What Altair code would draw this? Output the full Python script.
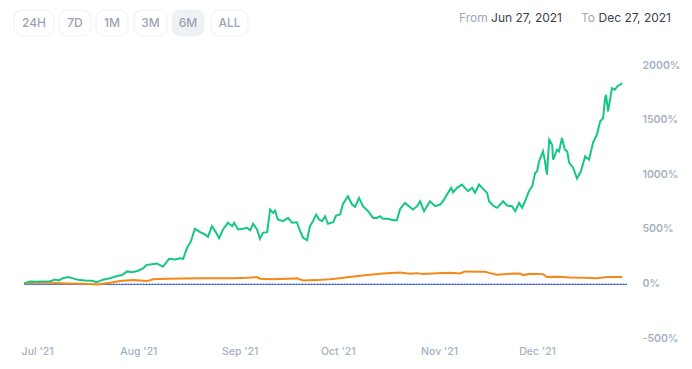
import altair as alt
import pandas as pd

# ---- data (days since 2021-06-27, % change) ----
green_days = [0.0, 1.8, 4.0, 5.8, 8.0, 9.5, 10.7, 11.9, 13.5, 15.0, 16.5, 18.7, 20.8, 22.3,
              24.2, 26.3, 28.5, 30.0, 31.5, 33.1, 34.9, 36.4, 37.6, 38.6, 40.7, 42.5, 44.4,
              46.2, 47.7, 48.7, 49.9, 51.1, 52.3, 53.9, 55.4, 56.3, 57.5, 58.8, 59.7, 60.9,
              62.4, 63.7, 64.3, 65.5, 67.0, 68.2, 69.2, 70.1, 71.3, 72.2, 73.1, 74.4, 75.3,
              76.2, 76.8, 77.7, 79.3, 80.8, 82.0, 83.5, 84.5, 85.4, 86.6, 87.5, 88.4, 89.4,
              90.3, 91.2, 92.1, 93.0, 94.6, 95.5, 96.7, 97.6, 99.1, 100.4, 101.3, 102.5,
              103.7, 105.3, 106.8, 108.0, 108.9, 109.9, 111.4, 112.9, 114.1, 115.1, 116.6,
              117.5, 119.0, 120.3, 121.2, 122.4, 124.2, 125.8, 127.3, 128.2, 129.4, 130.7,
              131.3, 132.5, 134.0, 134.9, 135.9, 137.1, 138.0, 139.2, 140.5, 141.7, 142.3,
              143.5, 144.7, 145.7, 146.6, 147.8, 149.3, 150.3, 151.5, 152.4, 153.3, 154.5,
              155.5, 156.4, 157.0, 157.6, 158.8, 159.4, 160.0, 160.7, 161.6, 161.9, 163.1,
              163.7, 164.6, 165.5, 166.2, 166.8, 168.0, 169.2, 170.4, 171.7, 172.9, 174.1,
              175.3, 176.3, 177.2, 177.8, 178.1, 178.7, 179.9, 180.8, 181.5, 182.4, 183.0]
green_vals = [0, 18, 15, 18, 20, 36, 27, 48, 58, 46, 34, 27, 25, 12,
              34, 48, 67, 76, 110, 103, 116, 137, 171, 174, 183, 152, 225,
              219, 231, 225, 326, 387, 500, 469, 448, 427, 524, 463, 414, 494,
              555, 524, 555, 494, 500, 509, 487, 546, 494, 409, 463, 469, 676,
              646, 667, 585, 570, 600, 555, 560, 478, 418, 396, 524, 570, 631,
              585, 570, 615, 546, 560, 621, 631, 728, 798, 722, 701, 783,
              707, 661, 600, 600, 615, 591, 591, 579, 579, 683, 737,
              713, 676, 707, 752, 661, 752, 707, 722, 752, 813, 875,
              834, 875, 905, 875, 844, 875, 829, 905, 866, 829, 752,
              713, 692, 722, 752, 713, 707, 661, 737, 692, 752, 844,
              890, 1012, 1027, 1118, 1209, 1118, 996, 1316, 1270, 1133, 1225,
              1209, 1331, 1225, 1209, 1106, 1060, 960, 1027, 1164, 1133, 1289,
              1362, 1484, 1514, 1697, 1727, 1575, 1789, 1773, 1803, 1819, 1834]

orange_days = [0.0, 3.0, 8.0, 13.2, 18.1, 22.6, 26.3, 29.4, 33.4, 37.6, 39.5, 43.8, 48.7,
               53.9, 59.1, 64.0, 68.2, 71.3, 72.2, 76.2, 80.5, 83.5, 85.4, 89.7, 93.6,
               96.7, 99.5, 105.0, 109.9, 115.1, 118.1, 120.3, 122.1, 126.4, 130.4, 133.4,
               134.9, 138.6, 141.1, 142.6, 144.7, 148.7, 151.8, 152.7, 154.8, 158.8, 160.0,
               163.1, 167.1, 171.1, 175.3, 178.4, 182.4, 183.0]
orange_vals = [0, 6, 6, 0, -3, -9, 6, 21, 30, 21, 37, 43, 46,
               48, 48, 48, 52, 58, 43, 37, 43, 46, 27, 30, 37,
               48, 58, 76, 91, 100, 88, 94, 85, 94, 97, 91,
               110, 107, 107, 94, 79, 88, 91, 76, 88, 85, 58,
               61, 55, 52, 48, 58, 58, 58]

y_ticks = [-500, 0, 500, 1000, 1500, 2000]
buttons = ["24H", "7D", "1M", "3M", "6M", "ALL"]
active_button = "6M"
from_date = "Jun 27, 2021"
to_date = "Dec 27, 2021"

# ---- build tables ----
start = pd.Timestamp("2021-06-27")
g = pd.DataFrame({"date": start + pd.to_timedelta(green_days, unit="D"),
                  "pct": green_vals})
o = pd.DataFrame({"date": start + pd.to_timedelta(orange_days, unit="D"),
                  "pct": orange_vals})

x_scale = alt.Scale(domain=[alt.DateTime(year=2021, month=6, date=27),
                            alt.DateTime(year=2021, month=12, date=28, hours=12)])
y_scale = alt.Scale(domain=[-500, 2000], nice=False, zero=False)

FONT = "Inter"
LABEL = "#a6b0c3"

x_enc = alt.X("date:T", scale=x_scale, title=None,
              axis=alt.Axis(values=[alt.DateTime(year=2021, month=m, date=1) for m in range(7, 13)],
                            format="%b '%y", labelFont=FONT, labelFontSize=10.5,
                            labelColor=LABEL, ticks=False, domain=False, grid=False,
                            labelPadding=8, labelFontWeight=500))
y_enc = alt.Y("pct:Q", scale=y_scale, title=None,
              axis=alt.Axis(orient="right", values=y_ticks, labelExpr="datum.value + '%'",
                            labelFont=FONT, labelFontSize=10.5, labelColor=LABEL,
                            labelFontWeight=600, labelAlign="left", labelPadding=15,
                            ticks=False, domain=False, grid=False))

orange_line = alt.Chart(o).mark_line(color="#f68819", strokeWidth=2).encode(x=x_enc, y=y_enc)
green_line = alt.Chart(g).mark_line(color="#16c784", strokeWidth=2).encode(x=x_enc, y=y_enc)

zero_df = pd.DataFrame({"pct": [0]})
zero_blue = alt.Chart(zero_df).mark_rule(color="#3861fb", strokeWidth=1, yOffset=1).encode(y=y_enc)
zero_dot = alt.Chart(zero_df).mark_rule(color="#9aa0ad", strokeWidth=1, strokeDash=[1, 2]).encode(y=y_enc)

plot = alt.layer(zero_blue, zero_dot, orange_line, green_line)

# ---- header decorations (pixel positions, not data) ----
btn_x0 = [-10, 35, 72, 110, 148, 187]
btn_x1 = [30, 67, 104, 143, 180, 224]
bdf = pd.DataFrame({"label": buttons, "x0": btn_x0, "x1": btn_x1,
                    "y0": [-55] * 6, "y1": [-29] * 6,
                    "xc": [(a + b) / 2 for a, b in zip(btn_x0, btn_x1)],
                    "yc": [-42] * 6,
                    "active": [b == active_button for b in buttons]})
btn_rect = alt.Chart(bdf).mark_rect(cornerRadius=9, strokeWidth=1).encode(
    x=alt.X("x0:Q", scale=None, axis=None), x2="x1:Q",
    y=alt.Y("y0:Q", scale=None, axis=None), y2="y1:Q",
    fill=alt.condition("datum.active", alt.value("#eff2f5"), alt.value("#ffffff")),
    stroke=alt.condition("datum.active", alt.value("#eff2f5"), alt.value("#eceff3")))
btn_text = alt.Chart(bdf).mark_text(font=FONT, fontSize=12, fontWeight=500, color="#9aa3b5",
                                    baseline="middle", align="center").encode(
    x=alt.X("xc:Q", scale=None, axis=None), y=alt.Y("yc:Q", scale=None, axis=None), text="label:N")

hdr = pd.DataFrame({"t": ["From", from_date, "To", to_date],
                    "x": [435, 538, 557, 647], "y": [-47] * 4,
                    "al": ["left", "right", "left", "right"]})
hdr_left = alt.Chart(hdr[hdr.al == "left"]).mark_text(
    font=FONT, fontSize=12, baseline="middle", align="left", color="#a1a7bb").encode(
    x=alt.X("x:Q", scale=None, axis=None), y=alt.Y("y:Q", scale=None, axis=None), text="t:N")
hdr_right = alt.Chart(hdr[hdr.al == "right"]).mark_text(
    font=FONT, fontSize=12, baseline="middle", align="right", color="#3a3f4b").encode(
    x=alt.X("x:Q", scale=None, axis=None), y=alt.Y("y:Q", scale=None, axis=None), text="t:N")

deco = alt.layer(btn_rect, btn_text, hdr_left, hdr_right)

chart = alt.layer(plot, deco).resolve_scale(x="independent", y="independent").properties(
    width=603, height=273,
    autosize=alt.AutoSizeParams(type="none"),
    padding={"left": 16, "top": 57, "right": 57, "bottom": 23},
).configure_view(stroke=None)

chart.save("out.html", embed_options={"renderer": "svg", "actions": False})
